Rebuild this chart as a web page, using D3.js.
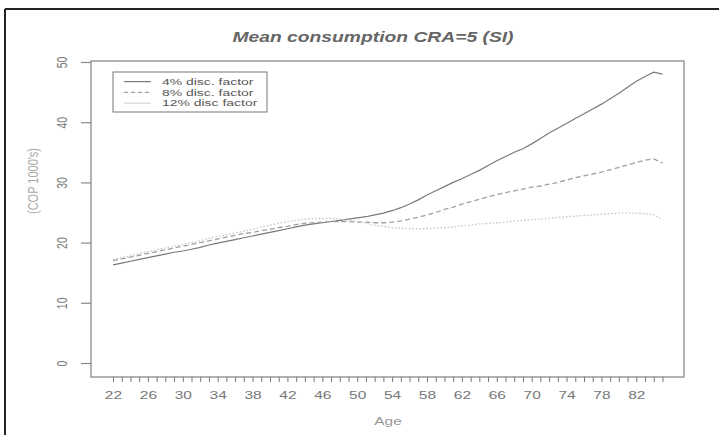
<!DOCTYPE html>
<html>
<head>
<meta charset="utf-8">
<script src="https://cdn.jsdelivr.net/npm/d3@7"></script>
<style>
  html, body { margin: 0; padding: 0; background: #fff; }
  svg { display: block; font-family: "Liberation Sans", Arial, sans-serif; }
</style>
</head>
<body>
<svg id="chart" width="719" height="435"></svg>
<script>
const ages = d3.range(22, 86);
const disc4 = [16.3,16.6,16.9,17.2,17.5,17.8,18.1,18.4,18.6,18.9,19.2,19.6,19.9,20.2,20.5,20.8,21.1,21.4,21.7,22.0,22.3,22.6,22.9,23.1,23.3,23.5,23.7,23.9,24.1,24.3,24.6,24.9,25.3,25.8,26.4,27.1,27.9,28.6,29.3,30.0,30.6,31.3,32.0,32.8,33.6,34.3,35.0,35.6,36.4,37.3,38.2,39.0,39.8,40.6,41.4,42.2,43.0,43.9,44.8,45.8,46.8,47.6,48.3,48.0];
const disc8 = [17.0,17.3,17.6,17.9,18.2,18.5,18.8,19.1,19.4,19.7,20.0,20.3,20.6,20.9,21.2,21.5,21.7,22.0,22.2,22.5,22.7,23.0,23.2,23.3,23.4,23.5,23.5,23.5,23.4,23.4,23.3,23.3,23.4,23.6,23.9,24.2,24.6,25.0,25.5,25.9,26.4,26.8,27.2,27.6,28.0,28.3,28.6,28.9,29.2,29.4,29.7,30.0,30.4,30.8,31.1,31.4,31.7,32.1,32.5,32.9,33.3,33.7,33.9,33.2];
const disc12 = [17.2,17.5,17.8,18.2,18.5,18.8,19.1,19.4,19.7,20.0,20.3,20.7,21.0,21.3,21.6,21.9,22.2,22.6,22.9,23.2,23.5,23.7,23.9,24.0,24.0,24.0,23.9,23.7,23.5,23.2,22.9,22.7,22.5,22.4,22.3,22.3,22.3,22.4,22.5,22.6,22.8,22.9,23.1,23.2,23.3,23.4,23.6,23.7,23.8,23.9,24.0,24.2,24.3,24.4,24.5,24.6,24.7,24.8,24.9,24.9,24.9,24.8,24.6,23.8];
const seriesNames = ["4% disc. factor", "8% disc. factor", "12% disc factor"];
const xTickLabels = d3.range(22, 86, 4).filter(a => a <= 82);
const yTicks = [0, 10, 20, 30, 40, 50];

const styles = [
  { color: "#7a7a7a", dash: null, width: 1.2 },
  { color: "#a0a0a0", dash: "5,3", width: 1.3 },
  { color: "#c4c4c4", dash: "1.5,2", width: 1.3 }
];
const seriesData = [disc4, disc8, disc12];
const SX = 1.35; // horizontal text stretch seen in the reference

const svg = d3.select("#chart");

// outer frame (top and left edges)
svg.append("line").attr("x1", 5).attr("x2", 719).attr("y1", 9).attr("y2", 9)
  .attr("stroke", "#222").attr("stroke-width", 2);
svg.append("line").attr("x1", 5).attr("x2", 5).attr("y1", 9).attr("y2", 435)
  .attr("stroke", "#222").attr("stroke-width", 2);

const x = d3.scaleLinear().domain([22, 85]).range([113, 662.5]);
const y = d3.scaleLinear().domain([0, 50]).range([363, 62]);

// plot box
svg.append("rect").attr("x", 91).attr("y", 61).attr("width", 593).attr("height", 316)
  .attr("fill", "none").attr("stroke", "#8a8a8a").attr("stroke-width", 1.3);

// y axis
const yAxis = svg.append("g").attr("transform", "translate(91,0)")
  .call(d3.axisLeft(y).tickValues(yTicks).tickSize(10).tickFormat(d3.format("d")));
yAxis.select(".domain").remove();
yAxis.selectAll(".tick line").attr("stroke", "#8a8a8a").attr("stroke-width", 1.2);
yAxis.selectAll(".tick text")
  .attr("fill", "#777").attr("font-size", 10.5)
  .attr("text-anchor", "middle")
  .attr("x", 0).attr("y", 0).attr("dy", "0.35em")
  .attr("transform", "translate(-29,0) scale(1.45,1) rotate(-90)");

// x axis ticks
const xAxis = svg.append("g").attr("transform", "translate(0,377)")
  .call(d3.axisBottom(x).tickValues(ages).tickSize(5).tickFormat(""));
xAxis.select(".domain").remove();
xAxis.selectAll(".tick line").attr("stroke", "#777").attr("stroke-width", 1);

const xLab = svg.append("g").attr("transform", "translate(0,377)")
  .call(d3.axisBottom(x).tickValues(xTickLabels).tickSize(0).tickPadding(14).tickFormat(d3.format("d")));
xLab.select(".domain").remove();
xLab.selectAll(".tick text").attr("fill", "#777").attr("font-size", 11.5)
  .attr("transform", `scale(${SX},1)`);

// axis titles
svg.append("text").attr("transform", `translate(388,425) scale(${SX},1)`).attr("text-anchor", "middle")
  .attr("fill", "#999").attr("font-size", 11.5).text("Age");
svg.append("text").attr("transform", "translate(38,181) scale(1.3,1) rotate(-90)")
  .attr("text-anchor", "middle").attr("fill", "#aaa").attr("font-size", 11)
  .text("(COP 1000's)");

// title
svg.append("text").attr("transform", `translate(373,42) scale(1.33,1)`).attr("text-anchor", "middle")
  .attr("fill", "#666").attr("font-size", 14.5).attr("font-weight", "bold").attr("font-style", "italic")
  .text("Mean consumption CRA=5 (SI)");

// lines
const line = d3.line().x((d, i) => x(ages[i])).y(d => y(d));
seriesData.forEach((s, k) => {
  svg.append("path").datum(s)
    .attr("d", line)
    .attr("fill", "none")
    .attr("stroke", styles[k].color)
    .attr("stroke-width", styles[k].width)
    .attr("stroke-dasharray", styles[k].dash);
});

// legend
const lg = svg.append("g");
lg.append("rect").attr("x", 113).attr("y", 72).attr("width", 154).attr("height", 40)
  .attr("fill", "#fff").attr("stroke", "#777").attr("stroke-width", 1);
seriesNames.forEach((name, k) => {
  const yy = 81.6 + k * 10.8;
  lg.append("line").attr("x1", 124).attr("x2", 151).attr("y1", yy).attr("y2", yy)
    .attr("stroke", k === 2 ? "#d6d6d6" : styles[k].color)
    .attr("stroke-width", 1.2)
    .attr("stroke-dasharray", k === 1 ? "4,3" : null);
  lg.append("text").attr("transform", `translate(162,${yy}) scale(1.5,1)`).attr("dy", "0.35em")
    .attr("fill", "#555").attr("font-size", 9.3).text(name);
});
</script>
</body>
</html>
